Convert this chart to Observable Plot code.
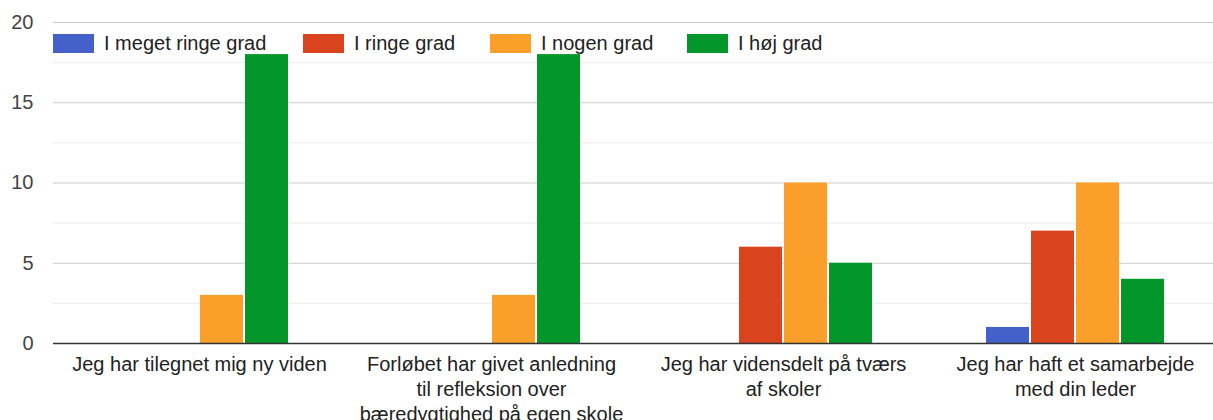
<!DOCTYPE html>
<html>
<head>
<meta charset="utf-8">
<script src="https://cdn.jsdelivr.net/npm/d3@7"></script>
<script src="https://cdn.jsdelivr.net/npm/@observablehq/plot@0.6"></script>
<style>
  html, body { margin: 0; padding: 0; background: #fff; overflow: hidden; }
  #wrap { position: relative; width: 1213px; height: 420px; font-family: "Liberation Sans", Arial, sans-serif; }
  #legend { position: absolute; left: 53px; top: 34px; height: 19px; display: flex; align-items: center; font-size: 20px; color: #222; }
  .item { display: flex; align-items: center; }
  .sw { width: 41px; height: 19px; margin-right: 10px; box-sizing: border-box; }
</style>
</head>
<body>
<div id="wrap"><div id="legend"></div></div>
<script>
const categories = ["c1", "c2", "c3", "c4"];
const categoryLabels = [
  "Jeg har tilegnet mig ny viden",
  "Forløbet har givet anledning\ntil refleksion over\nbæredygtighed på egen skole",
  "Jeg har vidensdelt på tværs\naf skoler",
  "Jeg har haft et samarbejde\nmed din leder"
];
const seriesNames = ["I meget ringe grad", "I ringe grad", "I nogen grad", "I høj grad"];
const seriesColors = ["#4361c8", "#d9441f", "#fa9f29", "#03962a"];
const valMegetRinge = [0, 0, 0, 1];
const valRinge = [0, 0, 6, 7];
const valNogen = [3, 3, 10, 10];
const valHoej = [18, 18, 5, 4];
const yTicks = [0, 5, 10, 15, 20];
const yMinorGrid = [2.5, 7.5, 12.5, 17.5];
const itemWidths = [250, 187, 197, 170];

const allVals = [valMegetRinge, valRinge, valNogen, valHoej];
const rows = [];
categories.forEach((c, i) => {
  seriesNames.forEach((s, j) => rows.push({cat: c, series: s, value: allVals[j][i]}));
});
const labelOf = new Map(categories.map((c, i) => [c, categoryLabels[i]]));

const plot = Plot.plot({
  width: 1213,
  height: 420,
  marginTop: 22,
  marginBottom: 77,
  marginLeft: 53,
  marginRight: 0,
  style: {fontFamily: "'Liberation Sans', Arial, sans-serif", fontSize: "20px", color: "#222", background: "transparent"},
  fx: {domain: categories, range: [53, 1221], padding: 0, axis: null},
  x: {domain: seriesNames, paddingInner: 0.055, paddingOuter: 1.23, axis: null},
  y: {domain: [0, 20], axis: null},
  color: {domain: seriesNames, range: seriesColors},
  marks: [
    Plot.ruleY(yMinorGrid, {stroke: "#ebebeb", strokeWidth: 1}),
    Plot.ruleY(yTicks.slice(1), {stroke: "#cccccc", strokeWidth: 1}),
    Plot.barY(rows, {fx: "cat", x: "series", y: "value", fill: "series"}),
    Plot.ruleY([0], {stroke: "#333", strokeWidth: 1.5}),
    Plot.text(categories, {fx: d => d, text: d => labelOf.get(d), frameAnchor: "bottom", lineAnchor: "top", dy: 10, lineHeight: 1.25, fontSize: 20, fill: "#222"}),
    Plot.axisY(yTicks, {anchor: "left", tickSize: 0, tickPadding: 0, dx: -20, fontSize: 20, fill: "#444", textAnchor: "end", label: null, facetAnchor: "left"})
  ]
});
const wrap = document.getElementById("wrap");
wrap.insertBefore(plot, wrap.firstChild);

const legend = document.getElementById("legend");
seriesNames.forEach((s, i) => {
  const item = document.createElement("div");
  item.className = "item";
  item.style.width = itemWidths[i] + "px";
  const sw = document.createElement("div");
  sw.className = "sw";
  sw.style.background = seriesColors[i];
  const t = document.createElement("span");
  t.textContent = s;
  item.appendChild(sw);
  item.appendChild(t);
  legend.appendChild(item);
});
</script>
</body>
</html>
